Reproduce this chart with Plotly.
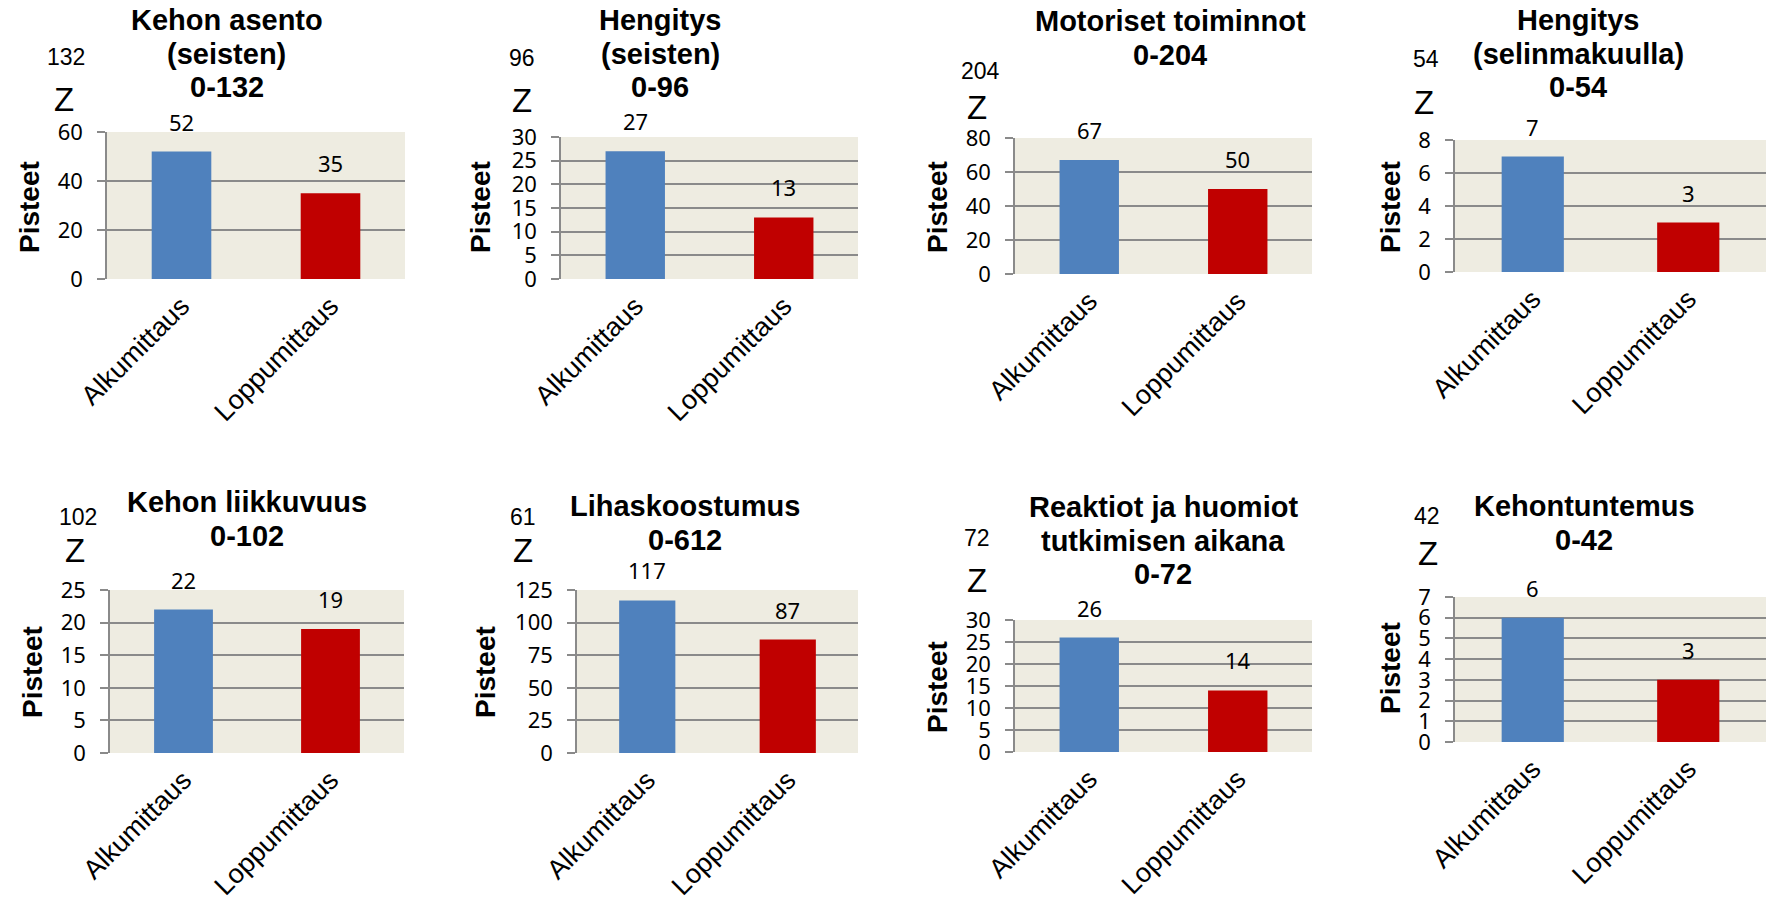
import plotly.graph_objects as go

W, H = 1771, 901

# --- data -------------------------------------------------------------
categories = ["Alkumittaus", "Loppumittaus"]
alkumittaus = [52, 27, 67, 7, 22, 117, 26, 6]
loppumittaus = [35, 13, 50, 3, 19, 87, 14, 3]
title_lines = [
    ["Kehon asento", "(seisten)", "0-132"],
    ["Hengitys", "(seisten)", "0-96"],
    ["Motoriset toiminnot", "0-204"],
    ["Hengitys", "(selinmakuulla)", "0-54"],
    ["Kehon liikkuvuus", "0-102"],
    ["Lihaskoostumus", "0-612"],
    ["Reaktiot ja huomiot", "tutkimisen aikana", "0-72"],
    ["Kehontuntemus", "0-42"],
]
n_labels = ["132", "96", "204", "54", "102", "61", "72", "42"]
y_max = [60, 30, 80, 8, 25, 125, 30, 7]
y_step = [20, 5, 20, 2, 5, 25, 5, 1]

# --- layout (pixel boxes: left, right, top, bottom) ---------------------
plot_boxes = [
    (107, 405, 132, 279), (561, 858, 137, 279), (1015, 1312, 138, 274), (1455, 1766, 140, 272),
    (110, 404, 590, 753), (577, 858, 590, 753), (1015, 1312, 620, 752), (1455, 1766, 597, 742),
]
title_pos = [(227, 20), (660, 20), (1170, 21), (1578, 20),
             (247, 502), (685, 506), (1163, 507), (1584, 506)]
n_pos = [(66, 57), (522, 58), (980, 71), (1426, 59),
         (78, 517), (523, 517), (977, 538), (1427, 516)]
z_pos = [(64, 100), (522, 101), (977, 107), (1424, 103),
         (75, 550), (523, 550), (977, 580), (1428, 553)]
ytitle_pos = [(29, 207), (480, 207), (937, 207), (1390, 207),
              (32, 672), (485, 672), (937, 687), (1390, 668)]

BLUE, RED = "#4F81BD", "#C00000"
GRID = "#8A8A8A"
BG = "#EEECE1"
SANS = "Liberation Sans, Arial, sans-serif"
NUM = "Noto Sans, sans-serif"

def px(x):
    return x / W

def py(y):
    return 1 - y / H

fig = go.Figure()
annotations = []
line_gap = 33.5

for i in range(8):
    ax = "" if i == 0 else str(i + 1)
    xref, yref = "x" + ax, "y" + ax
    l, r, t, b = plot_boxes[i]
    vals = [alkumittaus[i], loppumittaus[i]]
    fig.add_trace(go.Bar(
        x=categories, y=vals, marker=dict(color=[BLUE, RED], line=dict(width=0)),
        xaxis=xref, yaxis=yref, showlegend=False, hoverinfo="skip",
    ))
    fig.update_layout(**{
        "xaxis" + ax: dict(
            domain=[px(l), px(r)], anchor=yref, type="category", automargin=False,
            showgrid=False, zeroline=False, showline=False, ticks="",
            tickangle=-45, ticklabelstandoff=5,
            tickfont=dict(family=SANS, size=27, color="black"),
        ),
        "yaxis" + ax: dict(
            domain=[py(b), py(t)], anchor=xref, range=[0, y_max[i]], automargin=False,
            dtick=y_step[i], tick0=0, showgrid=True, gridcolor=GRID, gridwidth=1.5,
            zeroline=False, showline=True, linecolor=GRID, linewidth=1.5,
            ticks="outside", ticklen=8, tickcolor=GRID, tickwidth=1.5,
            ticklabelstandoff=10,
            tickfont=dict(family=NUM, size=22, color="black"),
        ),
    })
    # value labels above bars
    for c, v in zip(categories, vals):
        annotations.append(dict(
            x=c, y=v, xref=xref, yref=yref, text=str(v), showarrow=False,
            yanchor="bottom", yshift=13, font=dict(family=NUM, size=22, color="black"),
        ))
    # chart title
    tx, ty = title_pos[i]
    for k, line in enumerate(title_lines[i]):
        annotations.append(dict(
            x=px(tx), y=py(ty + k * line_gap), xref="paper", yref="paper",
            text="<b>" + line + "</b>", showarrow=False, xanchor="center", yanchor="middle",
            font=dict(family=SANS, size=29, color="black"),
        ))
    # N marker
    nx, ny = n_pos[i]
    annotations.append(dict(
        x=px(nx), y=py(ny), xref="paper", yref="paper", text=n_labels[i],
        showarrow=False, xanchor="center", yanchor="middle",
        font=dict(family=SANS, size=23, color="black"),
    ))
    zx, zy = z_pos[i]
    annotations.append(dict(
        x=px(zx), y=py(zy), xref="paper", yref="paper", text="Z",
        showarrow=False, xanchor="center", yanchor="middle",
        font=dict(family=SANS, size=33, color="black"),
    ))
    # y-axis title
    yx, yy = ytitle_pos[i]
    annotations.append(dict(
        x=px(yx), y=py(yy), xref="paper", yref="paper", text="<b>Pisteet</b>",
        showarrow=False, textangle=-90, xanchor="center", yanchor="middle",
        font=dict(family=SANS, size=28, color="black"),
    ))

fig.update_layout(
    width=W, height=H, margin=dict(l=0, r=0, t=0, b=0, autoexpand=False),
    paper_bgcolor="white", plot_bgcolor=BG, bargap=0.6,
    annotations=annotations,
)

fig.write_html("out.html")
